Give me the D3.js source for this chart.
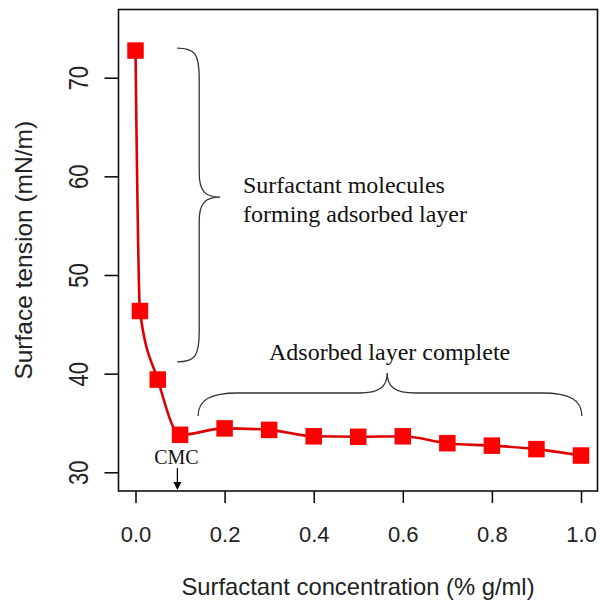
<!DOCTYPE html>
<html>
<head>
<meta charset="utf-8">
<script src="https://cdn.jsdelivr.net/npm/d3@7/dist/d3.min.js"></script>
<style>
  body { margin: 0; background: #fff; }
  .axis text { font-family: "Liberation Sans", Arial, sans-serif; fill: #222; }
  .note { font-family: "Liberation Serif", "Times New Roman", serif; fill: #111; }
</style>
</head>
<body>
<svg id="chart" width="600" height="605"></svg>
<script>
'use strict';

// surfactant concentration (% g/ml) vs surface tension (mN/m)
var concentration = [0, 0.01, 0.05, 0.1, 0.2, 0.3, 0.4, 0.5, 0.6, 0.7, 0.8, 0.9, 1.0];
var tension = [72.75, 46.35, 39.4, 33.8, 34.45, 34.3, 33.65, 33.6, 33.65, 32.95, 32.7, 32.35, 31.7];
var xTicks = [0, 0.2, 0.4, 0.6, 0.8, 1.0];
var yTicks = [30, 40, 50, 60, 70];

var points = concentration.map(function (c, i) { return { x: c, y: tension[i] }; });

var svg = d3.select("#chart");
var box = { left: 118.5, top: 9.5, right: 597.5, bottom: 491 };

var x = d3.scaleLinear().domain([0, 1]).range([135.5, 581]);
var y = d3.scaleLinear().domain([30, 70]).range([472.3, 77.7]);

// x axis
var xAxis = svg.append("g").attr("class", "axis")
  .attr("transform", "translate(0," + box.bottom + ")")
  .call(d3.axisBottom(x).tickValues(xTicks).tickSize(12).tickPadding(23).tickFormat(d3.format(".1f")));
xAxis.select(".domain").remove();
xAxis.selectAll("line").attr("stroke", "#000").attr("stroke-width", 1.5);
xAxis.selectAll("text").attr("font-size", "22px");

// y axis, labels turned like R's las=0
var yAxis = svg.append("g").attr("class", "axis")
  .attr("transform", "translate(" + box.left + ",0)")
  .call(d3.axisLeft(y).tickValues(yTicks).tickSize(14).tickFormat(d3.format("d")));
yAxis.select(".domain").remove();
yAxis.selectAll("line").attr("stroke", "#000").attr("stroke-width", 1.5);
yAxis.selectAll("text")
  .attr("x", null).attr("dy", null)
  .attr("text-anchor", "middle")
  .attr("font-size", "22px")
  .attr("transform", "translate(-30.5,0) rotate(-90) scale(1,1.25)");

// frame
svg.append("rect")
  .attr("x", box.left).attr("y", box.top)
  .attr("width", box.right - box.left).attr("height", box.bottom - box.top)
  .attr("fill", "none").attr("stroke", "#111").attr("stroke-width", 1.6);

// titles
svg.append("text")
  .attr("x", (box.left + box.right) / 2).attr("y", 595)
  .attr("text-anchor", "middle")
  .style("font-family", "'Liberation Sans', Arial, sans-serif").style("font-size", "23.8px").attr("fill", "#222")
  .text("Surfactant concentration (% g/ml)");

svg.append("text")
  .attr("transform", "translate(31.5," + (box.top + box.bottom) / 2 + ") rotate(-90)")
  .attr("text-anchor", "middle")
  .style("font-family", "'Liberation Sans', Arial, sans-serif").style("font-size", "24.5px").attr("fill", "#222")
  .text("Surface tension (mN/m)");

// curve + markers
var line = d3.line()
  .x(function (d) { return x(d.x); })
  .y(function (d) { return y(d.y); })
  .curve(d3.curveMonotoneX);

svg.append("path").datum(points)
  .attr("d", line)
  .attr("fill", "none").attr("stroke", "#dc0000").attr("stroke-width", 2.6);

var size = 16.5;
svg.selectAll("rect.pt").data(points).enter().append("rect")
  .attr("class", "pt")
  .attr("x", function (d) { return x(d.x) - size / 2; })
  .attr("y", function (d) { return y(d.y) - size / 2; })
  .attr("width", size).attr("height", size)
  .attr("fill", "#ff0000");

// braces
function vBrace(x0, xs, xt, y0, ym, y1) {
  var k = 30, kt = 24;
  return "M" + x0 + "," + y0 +
    "C" + (x0 + 18) + "," + y0 + " " + xs + "," + (y0 + 6) + " " + xs + "," + (y0 + k) +
    "L" + xs + "," + (ym - kt) +
    "C" + xs + "," + (ym - 6) + " " + (xs + 6) + "," + ym + " " + xt + "," + ym +
    "C" + (xs + 6) + "," + ym + " " + xs + "," + (ym + 6) + " " + xs + "," + (ym + kt) +
    "L" + xs + "," + (y1 - k) +
    "C" + xs + "," + (y1 - 6) + " " + (x0 + 18) + "," + y1 + " " + x0 + "," + y1;
}
function hBrace(y0, ys, yt, x0, xm, x1) {
  var k = 40, kt = 28;
  return "M" + x0 + "," + y0 +
    "C" + x0 + "," + (y0 - 16) + " " + (x0 + 12) + "," + ys + " " + (x0 + k) + "," + ys +
    "L" + (xm - kt) + "," + ys +
    "C" + (xm - 8) + "," + ys + " " + xm + "," + (ys - 6) + " " + xm + "," + yt +
    "C" + xm + "," + (ys - 6) + " " + (xm + 8) + "," + ys + " " + (xm + kt) + "," + ys +
    "L" + (x1 - k) + "," + ys +
    "C" + (x1 - 12) + "," + ys + " " + x1 + "," + (y0 - 16) + " " + x1 + "," + y0;
}

svg.append("path")
  .attr("d", vBrace(x(0.0935), x(0.143), x(0.19), y(73.0), y(57.9), y(41.2)))
  .attr("fill", "none").attr("stroke", "#333").attr("stroke-width", 1.3);

svg.append("path")
  .attr("d", hBrace(y(35.7), y(38.04), y(40.07), x(0.1405), x(0.565), x(1.002)))
  .attr("fill", "none").attr("stroke", "#333").attr("stroke-width", 1.3);

// annotation text
var notes = svg.append("g").attr("class", "note").style("font-size", "24px");
notes.append("text").attr("x", 243).attr("y", 193).text("Surfactant molecules");
notes.append("text").attr("x", 243).attr("y", 222).text("forming adsorbed layer");
notes.append("text").attr("x", 269).attr("y", 360).text("Adsorbed layer complete");

// CMC marker
var cmc = x(0.094);
svg.append("text").attr("class", "note")
  .attr("x", cmc - 1).attr("y", 464)
  .attr("text-anchor", "middle").style("font-size", "20px")
  .text("CMC");
svg.append("line")
  .attr("x1", cmc).attr("x2", cmc).attr("y1", 468).attr("y2", 483)
  .attr("stroke", "#000").attr("stroke-width", 1.2);
svg.append("path")
  .attr("d", "M" + (cmc - 4) + ",482L" + (cmc + 4) + ",482L" + cmc + ",490Z")
  .attr("fill", "#000");
</script>
</body>
</html>
